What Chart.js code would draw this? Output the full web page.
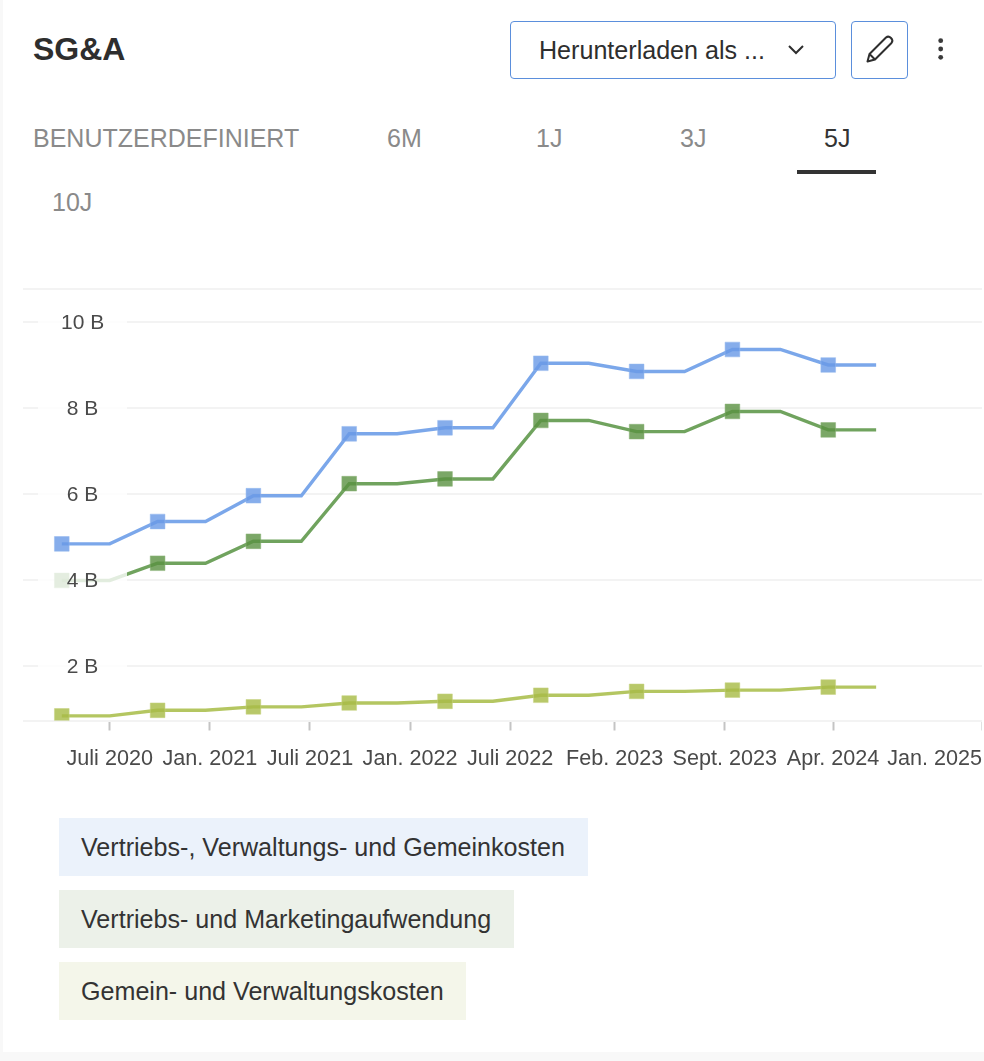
<!DOCTYPE html>
<html lang="de">
<head>
<meta charset="utf-8">
<title>SG&amp;A</title>
<script src="https://cdn.jsdelivr.net/npm/chart.js@4/dist/chart.umd.js"></script>
<style>
html,body{margin:0;padding:0;background:#f8f8f8;width:984px;height:1061px;overflow:hidden;font-family:"Liberation Sans",Arial,sans-serif;}
#card{position:absolute;left:3px;top:0;width:981px;height:1052px;background:#fff;}
.abs{position:absolute;white-space:nowrap;}
#title{left:33px;top:30px;font-size:32px;line-height:38px;font-weight:bold;color:#2e2e2e;}
.btn{box-sizing:border-box;border:1px solid #5b8fdc;border-radius:4px;background:#fff;}
.tab{font-size:25px;line-height:30px;color:#8a8a8a;}
#tabline{left:797px;top:170px;width:79px;height:4px;background:#333;}
#canvasWrap{position:absolute;left:23px;top:279px;width:959px;height:511px;}
.leg{position:absolute;left:59px;height:58px;line-height:58px;font-size:25.1px;color:#333;padding-left:22px;box-sizing:border-box;white-space:nowrap;}
</style>
</head>
<body>
<div id="card"></div>
<div class="abs" id="title">SG&amp;A</div>
<div class="abs btn" style="left:510px;top:21px;width:326px;height:58px;"></div>
<div class="abs" style="left:539px;top:35px;font-size:25.1px;line-height:30px;color:#2e2e2e;">Herunterladen als ...</div>
<svg class="abs" style="left:787px;top:43px" width="18" height="14" viewBox="0 0 18 14"><path d="M2 3 L9 10 L16 3" fill="none" stroke="#2e2e2e" stroke-width="2"/></svg>
<div class="abs btn" style="left:851px;top:21px;width:57px;height:58px;"></div>
<svg class="abs" style="left:865px;top:34px" width="30" height="30" viewBox="0 0 30 30"><path d="M2.5 27.5 L4.5 20 L21 3.5 Q23.5 1.5 26 4 Q28.5 6.5 26.5 9 L10 25.5 Z M4.5 20 L10 25.5" fill="none" stroke="#2e2e2e" stroke-width="2" stroke-linejoin="round"/></svg>
<svg class="abs" style="left:935px;top:36px" width="12" height="28" viewBox="0 0 12 28"><circle cx="5.7" cy="4.7" r="2.4" fill="#3a3a3a"/><circle cx="5.7" cy="13" r="2.4" fill="#3a3a3a"/><circle cx="5.7" cy="21.3" r="2.4" fill="#3a3a3a"/></svg>
<div class="abs tab" style="left:33px;top:123px;">BENUTZERDEFINIERT</div>
<div class="abs tab" style="left:387px;top:123px;">6M</div>
<div class="abs tab" style="left:536px;top:123px;">1J</div>
<div class="abs tab" style="left:680px;top:123px;">3J</div>
<div class="abs tab" style="left:824px;top:123px;color:#333;">5J</div>
<div class="abs" id="tabline"></div>
<div class="abs tab" style="left:52px;top:187px;">10J</div>
<div id="canvasWrap"><canvas id="c" width="959" height="511" style="display:block;width:959px;height:511px;"></canvas></div>
<div id="legend"></div>
<script>
// Quarter index of each reading (0 = Apr. 2020); markers sit on the reported half-years.
const periods = [0,1,2,3,4,5,6,7,8,9,10,11,12,13,14,15,16,17];
const sgaTotal   = [4.84,4.84,5.36,5.36,5.96,5.96,7.4,7.4,7.54,7.54,9.04,9.04,8.85,8.85,9.36,9.36,9.0,9.0];
const salesMkt   = [3.99,3.99,4.39,4.39,4.9,4.9,6.24,6.24,6.35,6.35,7.71,7.71,7.45,7.45,7.92,7.92,7.49,7.49];
const genAdmin   = [0.84,0.84,0.97,0.97,1.05,1.05,1.14,1.14,1.18,1.18,1.32,1.32,1.41,1.41,1.44,1.44,1.51,1.51];
const seriesNames = ["Vertriebs-, Verwaltungs- und Gemeinkosten","Vertriebs- und Marketingaufwendung","Gemein- und Verwaltungskosten"];
const legendFills = ["#ebf2fb","#ecf1e9","#f4f6ea"];
const legendWidths = [529,455,407];
const xTickLabels = ["Juli 2020","Jan. 2021","Juli 2021","Jan. 2022","Juli 2022","Feb. 2023","Sept. 2023","Apr. 2024","Jan. 2025",""];
const xTickValues = [1,3.09,5.18,7.27,9.36,11.54,13.84,16.1,18.22,19.21];
const yTickValues = [2,4,6,8,10];
const xMin = -0.81, xMax = 19.21, yMin = 0.733, yMax = 10.767;

seriesNames.forEach((n,i)=>{
  const d=document.createElement('div');d.className='leg';d.textContent=n;
  d.style.top=(818+72*i)+'px';d.style.width=legendWidths[i]+'px';d.style.background=legendFills[i];
  document.getElementById('legend').appendChild(d);
});

const mk = (data,line,fill,edge,label)=>({
  label, data: periods.map((p,i)=>({x:p,y:data[i]})),
  borderColor:line, borderWidth:3.4, tension:0, fill:false,
  pointStyle:'rect',
  pointRadius: ctx => ctx.dataIndex%2===0 ? 10.4 : 0,
  pointBackgroundColor:fill, pointBorderColor:edge, pointBorderWidth:1,
});

const labelBacking = {
  id:'labelBacking',
  afterDatasetsDraw(chart){
    const {ctx,scales:{y}} = chart;
    ctx.save();
    ctx.fillStyle='rgba(255,255,255,0.8)';
    yTickValues.forEach(v=>{ ctx.fillRect(15, y.getPixelForValue(v)-12, 89, 24); });
    ctx.restore();
    // y tick labels are drawn next (z:1); nudge them down onto their gridlines
    ctx.save();
    ctx.translate(0,1.5);
  },
  afterDraw(chart){ chart.ctx.restore(); }
};

new Chart(document.getElementById('c'),{
  type:'line',
  data:{datasets:[
    mk(sgaTotal,'rgba(112,160,232,0.92)','rgba(107,155,230,0.82)','rgba(150,185,240,0.5)',seriesNames[0]),
    mk(salesMkt,'rgba(100,155,80,0.92)','rgba(90,145,65,0.8)','rgba(140,180,120,0.5)',seriesNames[1]),
    mk(genAdmin,'rgba(172,192,80,0.9)','rgba(168,188,72,0.82)','rgba(200,212,130,0.5)',seriesNames[2]),
  ]},
  options:{
    responsive:false, animation:false, devicePixelRatio:1,
    layout:{autoPadding:false,padding:{top:10,left:0,right:0,bottom:0}},
    plugins:{legend:{display:false},tooltip:{enabled:false},title:{display:false}},
    scales:{
      x:{
        type:'linear', min:xMin, max:xMax, offset:false,
        border:{display:false},
        grid:{display:true,drawOnChartArea:false,drawTicks:true,tickLength:10,tickWidth:2,
          tickColor:ctx=> (ctx.tick && ctx.tick.value===18.22) ? 'rgba(0,0,0,0)' : '#c4c4c4'},
        afterBuildTicks(s){ s.ticks = xTickValues.map(v=>({value:v})); },
        afterFit(s){ s.height=69.5; s.paddingLeft=0; s.paddingRight=0; },
        ticks:{
          autoSkip:false,maxRotation:0,minRotation:0,padding:15.5,color:'#4a4a4a',
          font:{family:'"Liberation Sans"',size:21.6},
          callback:(v)=> xTickLabels[xTickValues.indexOf(v)] ?? ''
        }
      },
      y:{
        type:'linear', position:'left', min:yMin, max:yMax,
        border:{display:false},
        grid:{color:'#f3f3f3',lineWidth:2,drawTicks:false},
        afterBuildTicks(s){ s.ticks = [yMin].concat(yTickValues,[yMax]).map(v=>({value:v})); },
        afterFit(s){ s.width=0; s.paddingTop=0; s.paddingBottom=0; },
        ticks:{
          z:1,mirror:true,padding:38,color:'#4a4a4a',autoSkip:false,
          font:{family:'"Liberation Sans"',size:21},
          callback:(v)=> !yTickValues.includes(v) ? '' : (v<10 ? ' ' : '')+v+' B'
        }
      }
    }
  },
  plugins:[labelBacking]
});
</script>
</body>
</html>
